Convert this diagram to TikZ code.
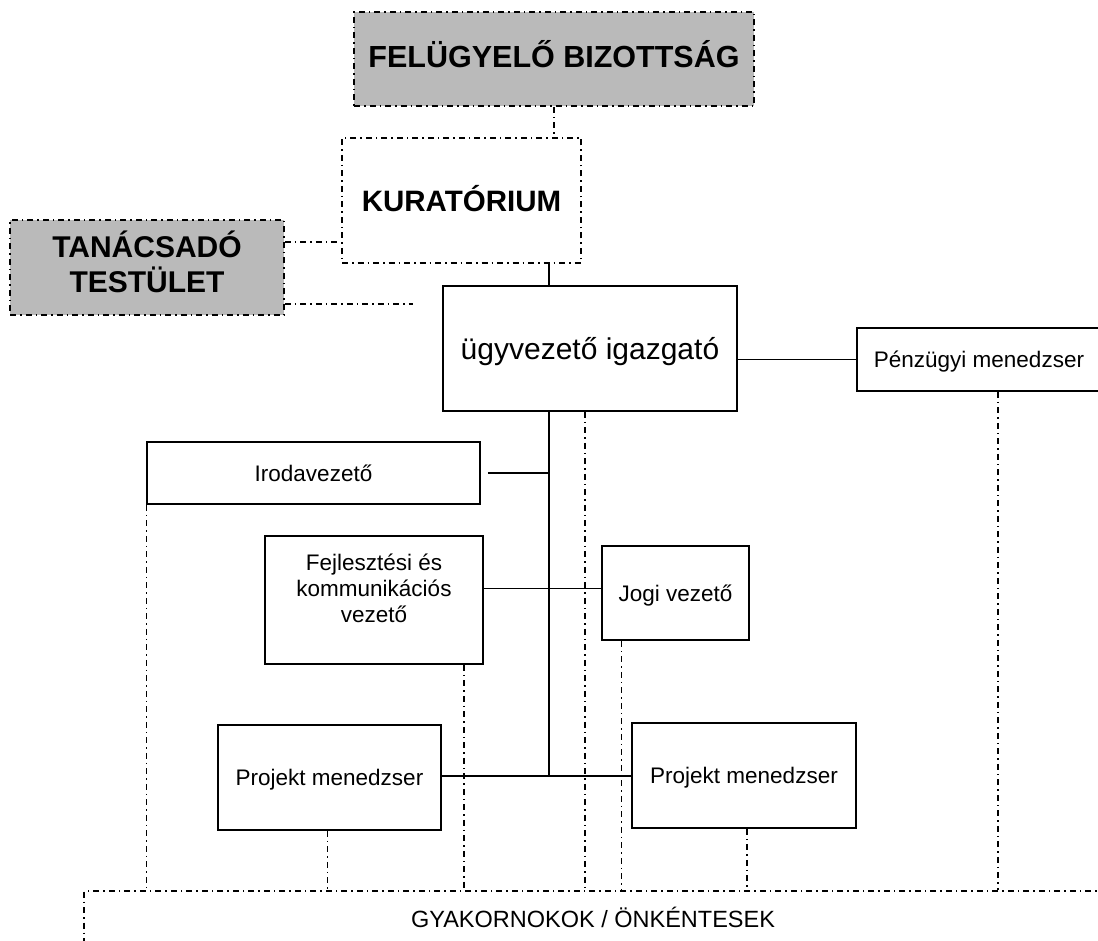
\documentclass[tikz,border=0pt]{standalone}
\usepackage{fontspec}
\setmainfont{Liberation Sans}
\usetikzlibrary{calc}
\definecolor{boardgray}{RGB}{186,186,186}
\tikzset{
  ddline/.style={line width=1.4pt, dash pattern=on 6pt off 4pt on 1.5pt off 4pt},
  conn/.style={line width=1.4pt},
  orgbox/.style={draw, line width=1.6pt, inner sep=0pt, align=center},
  ddbox/.style={orgbox, ddline, line width=1.6pt},
  grayfill/.style={fill=boardgray},
  tbig/.style={font=\fontsize{30.5}{35}\selectfont\bfseries, text height=22pt, text depth=4pt},
  tkur/.style={font=\fontsize{29.5}{35}\selectfont\bfseries, text height=21.2pt, text depth=0pt},
  tugy/.style={font=\fontsize{30}{35}\selectfont, text height=21.6pt, text depth=0pt},
  tnorm/.style={font=\fontsize{22.5}{25.5}\selectfont, text height=16.2pt, text depth=0pt},
  tgyak/.style={font=\fontsize{23.5}{26}\selectfont, text height=16.9pt, text depth=0pt},
}
\begin{document}
\begin{tikzpicture}[x=1pt,y=-1pt]
\useasboundingbox (0,0) rectangle (1098,941);
\clip (0,0) rectangle (1098,941);
\fill[white] (0,0) rectangle (1098,941);

% boxes
\node[ddbox, grayfill, tbig, minimum width=400pt, minimum height=94pt] (fel) at (554,59) {FELÜGYELŐ BIZOTTSÁG};
\node[ddbox, tkur, minimum width=239pt, minimum height=125pt] (kur) at (461.5,200.5) {KURATÓRIUM};
\node[ddbox, grayfill, minimum width=274pt, minimum height=95pt,
      label={[font=\fontsize{30}{35}\selectfont\bfseries, align=center, yshift=6pt]center:TANÁCSADÓ\\TESTÜLET}] (tan) at (147,267.5) {};
\node[orgbox, tugy, minimum width=294pt, minimum height=125pt] (ugy) at (590,348.5) {ügyvezető igazgató};
\node[orgbox, tnorm, minimum width=244pt, minimum height=63pt] (penz) at (979,359.5) {Pénzügyi menedzser};
\node[orgbox, tnorm, minimum width=333pt, minimum height=62pt] (iroda) at (313.5,473) {Irodavezető};
\node[orgbox, minimum width=218pt, minimum height=128pt,
      label={[font=\fontsize{22.5}{26}\selectfont, align=center, yshift=12pt]center:Fejlesztési és\\kommunikációs\\vezető}] (fejl) at (374,600) {};
\node[orgbox, tnorm, minimum width=147pt, minimum height=94pt] (jogi) at (675.5,593) {Jogi vezető};
\node[orgbox, tnorm, minimum width=223pt, minimum height=105pt] (pm1) at (329.5,777.5) {Projekt menedzser};
\node[orgbox, tnorm, minimum width=224pt, minimum height=105pt] (pm2) at (744,775.5) {Projekt menedzser};
\node[ddbox, tgyak, minimum width=1018pt, minimum height=56pt] (gyak) at (593,919) {GYAKORNOKOK / ÖNKÉNTESEK};

% helper coordinates
\coordinate (spine) at (549,0);
\coordinate (pmline) at (0,776);
\coordinate (fjline) at (0,588.5);
\coordinate (tk) at (0,242);
\coordinate (tanend) at (413,304);
\coordinate (irodaend) at ([xshift=7pt]iroda.east);
\coordinate (fd) at ([xshift=90pt]fejl.south);
\coordinate (ud) at ([xshift=-5pt]ugy.south);
\coordinate (jd) at ([xshift=20pt]jogi.south west);
\coordinate (p2d) at ([xshift=3pt]pm2.south);
\coordinate (pzd) at ([xshift=19pt]penz.south);
\coordinate (p1d) at ([xshift=-2pt]pm1.south);

% solid connectors
\draw[conn] (kur.south -| spine) -- (ugy.north -| spine);
\draw[conn] (ugy.south -| spine) -- (spine |- pmline);
\draw[conn] (pm1.east |- pmline) -- (pm2.west |- pmline);
\draw[conn] (fejl.east |- fjline) -- (jogi.west |- fjline);
\draw[conn] (irodaend) -- (iroda.east -| spine);
\draw[conn] (ugy.east |- penz.west) -- (penz.west);

% dash-dot connectors
\draw[ddline] (fel.south) -- (fel.south |- kur.north);
\draw[ddline] (tan.east |- tk) -- (kur.west |- tk);
\draw[ddline] (tan.east |- tanend) -- (tanend);
\draw[ddline] (iroda.south west) -- (iroda.south west |- gyak.north);
\draw[ddline] (p1d) -- (p1d |- gyak.north);
\draw[ddline] (fd) -- (fd |- gyak.north);
\draw[ddline] (ud) -- (ud |- gyak.north);
\draw[ddline] (jd) -- (jd |- gyak.north);
\draw[ddline] (p2d) -- (p2d |- gyak.north);
\draw[ddline] (pzd) -- (pzd |- gyak.north);
\end{tikzpicture}
\end{document}
